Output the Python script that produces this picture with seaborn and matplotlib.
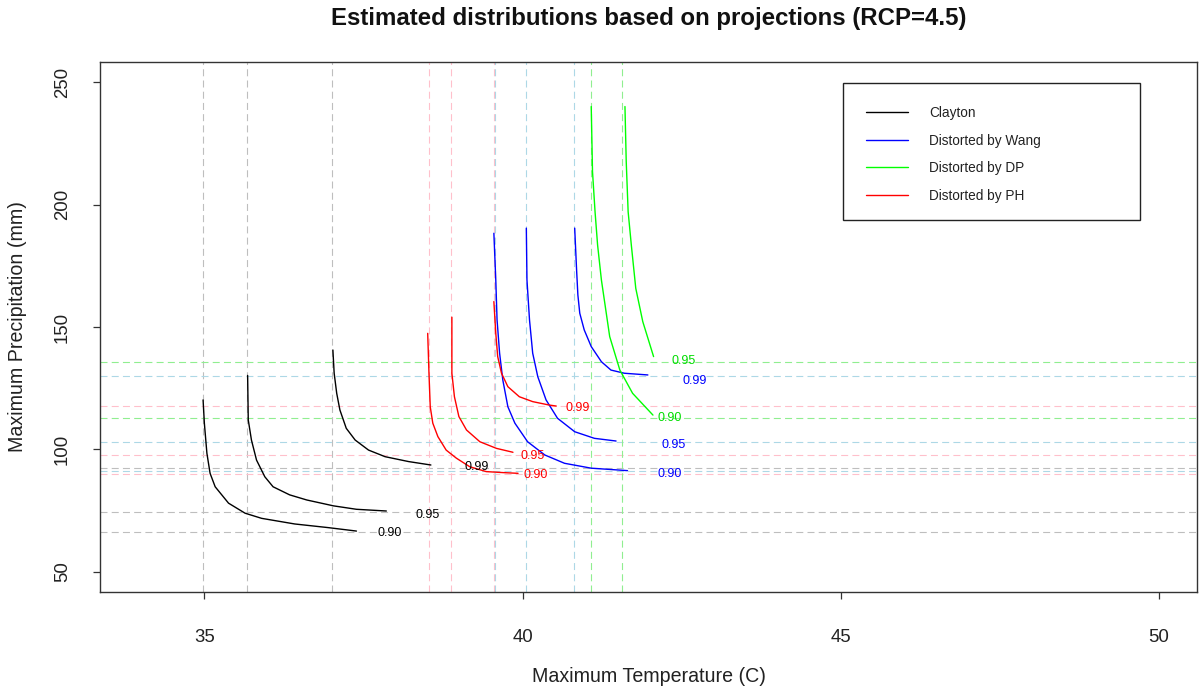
import numpy as np
import pandas as pd
import matplotlib
matplotlib.use("Agg")
import matplotlib.pyplot as plt
import seaborn as sns
from matplotlib.lines import Line2D
from matplotlib.patches import Rectangle

# ---------------- data ----------------
models = ["Clayton", "Distorted by Wang", "Distorted by DP", "Distorted by PH"]

# Clayton copula contours
clayton_090_x = [34.98, 35.00, 35.04, 35.09, 35.17, 35.38, 35.64, 35.90, 36.42, 36.95, 37.39]
clayton_090_y = [120.2, 110.7, 98.4, 90.2, 84.7, 78.0, 73.9, 71.8, 69.5, 68.0, 66.6]
clayton_095_x = [35.68, 35.69, 35.74, 35.82, 35.95, 36.08, 36.34, 36.61, 37.03, 37.39, 37.86]
clayton_095_y = [130.2, 112.0, 103.8, 95.6, 88.8, 84.7, 81.4, 79.3, 76.9, 75.5, 74.8]
clayton_099_x = [37.02, 37.04, 37.08, 37.13, 37.23, 37.37, 37.58, 37.84, 38.21, 38.56]
clayton_099_y = [140.6, 131.1, 122.9, 116.1, 108.6, 103.8, 99.7, 97.0, 95.0, 93.6]

# Distorted by PH
ph_090_x = [38.51, 38.53, 38.55, 38.59, 38.67, 38.80, 38.96, 39.17, 39.43, 39.69, 39.93]
ph_090_y = [147.4, 131.1, 117.4, 110.7, 105.2, 99.7, 96.4, 92.9, 90.9, 90.5, 90.2]
ph_095_x = [38.89, 38.89, 38.93, 39.00, 39.12, 39.33, 39.59, 39.85]
ph_095_y = [154.0, 131.1, 121.5, 113.4, 107.9, 103.1, 100.4, 98.8]
ph_099_x = [39.55, 39.58, 39.61, 39.67, 39.77, 39.95, 40.16, 40.42, 40.53]
ph_099_y = [160.4, 147.4, 137.9, 131.1, 125.6, 121.5, 119.5, 118.1, 117.7]

# Distorted by Wang
wang_090_x = [39.55, 39.58, 39.60, 39.64, 39.69, 39.77, 39.88, 40.08, 40.35, 40.66, 41.08, 41.65]
wang_090_y = [188.3, 169.2, 152.9, 139.3, 128.4, 117.4, 110.7, 103.1, 97.7, 94.3, 92.3, 91.3]
wang_095_x = [40.06, 40.07, 40.11, 40.16, 40.24, 40.37, 40.55, 40.82, 41.13, 41.47]
wang_095_y = [190.4, 169.2, 152.9, 139.3, 129.7, 120.2, 112.7, 107.2, 104.5, 103.4]
wang_099_x = [40.82, 40.85, 40.87, 40.90, 40.97, 41.08, 41.24, 41.39, 41.60, 41.97]
wang_099_y = [190.4, 173.3, 163.1, 155.6, 148.8, 142.0, 135.8, 132.4, 131.1, 130.4]

# Distorted by DP
dp_090_x = [41.08, 41.10, 41.14, 41.18, 41.24, 41.37, 41.53, 41.73, 42.05]
dp_090_y = [240.1, 213.5, 197.1, 183.5, 169.2, 146.1, 132.4, 122.9, 114.0]
dp_095_x = [41.61, 41.63, 41.66, 41.71, 41.78, 41.89, 42.06]
dp_095_y = [240.1, 217.6, 197.1, 183.5, 165.8, 152.2, 137.9]

# marginal quantiles (dashed reference lines)
clayton_xq = [34.98, 35.67, 37.01]
clayton_yq = [66.2, 74.4, 92.5]
ph_xq = [38.53, 38.88, 39.55]
ph_yq = [89.8, 97.8, 117.7]
wang_xq = [39.57, 40.05, 40.81]
wang_yq = [91.2, 102.8, 130.0]
dp_xq = [41.07, 41.57]
dp_yq = [112.8, 135.7]

# contour labels
clayton_labels = ["0.90", "0.95", "0.99"]
clayton_label_x = [37.91, 38.51, 39.28]
clayton_label_y = [65.8, 73.3, 92.9]
ph_labels = ["0.90", "0.95", "0.99"]
ph_label_x = [40.21, 40.16, 40.87]
ph_label_y = [89.5, 97.4, 117.0]
wang_labels = ["0.90", "0.95", "0.99"]
wang_label_x = [42.31, 42.38, 42.70]
wang_label_y = [90.0, 101.7, 127.8]
dp_labels = ["0.90", "0.95"]
dp_label_x = [42.32, 42.53]
dp_label_y = [112.9, 136.1]

x_ticks = [35, 40, 45, 50]
y_ticks = [50, 100, 150, 200, 250]

# ---------------- assemble ----------------
curves = [
    ("Clayton", "0.90", clayton_090_x, clayton_090_y),
    ("Clayton", "0.95", clayton_095_x, clayton_095_y),
    ("Clayton", "0.99", clayton_099_x, clayton_099_y),
    ("Distorted by PH", "0.90", ph_090_x, ph_090_y),
    ("Distorted by PH", "0.95", ph_095_x, ph_095_y),
    ("Distorted by PH", "0.99", ph_099_x, ph_099_y),
    ("Distorted by Wang", "0.90", wang_090_x, wang_090_y),
    ("Distorted by Wang", "0.95", wang_095_x, wang_095_y),
    ("Distorted by Wang", "0.99", wang_099_x, wang_099_y),
    ("Distorted by DP", "0.90", dp_090_x, dp_090_y),
    ("Distorted by DP", "0.95", dp_095_x, dp_095_y),
]
rows = []
for m, lev, xs, ys in curves:
    for i, (xv, yv) in enumerate(zip(xs, ys)):
        rows.append({"model": m, "curve": m + lev, "x": xv, "y": yv, "order": i})
df = pd.DataFrame(rows)

curve_colors = {"Clayton": "#000000", "Distorted by Wang": "#0000FF",
                "Distorted by DP": "#00FF00", "Distorted by PH": "#FF0000"}
ref_colors = {"Clayton": "#BEBEBE", "Distorted by Wang": "#ADD8E6",
              "Distorted by DP": "#90EE90", "Distorted by PH": "#FFC0CB"}
label_colors = {"Clayton": "#000000", "Distorted by Wang": "#0000FF",
                "Distorted by DP": "#00DD00", "Distorted by PH": "#FF0000"}

sns.set_theme(style="white")
plt.rcParams["font.family"] = ["Liberation Sans", "DejaVu Sans"]

W, H = 1200, 694
fig = plt.figure(figsize=(W / 100, H / 100), dpi=100)
L, R, T, B = 100, 1197, 62, 591.7
ax = fig.add_axes([L / W, 1 - B / H, (R - L) / W, (B - T) / H])
ax.set_facecolor("white")

# dashed reference lines
dash = (6.3, 3.8)
for m, xq, yq in [("Clayton", clayton_xq, clayton_yq),
                  ("Distorted by PH", ph_xq, ph_yq),
                  ("Distorted by Wang", wang_xq, wang_yq),
                  ("Distorted by DP", dp_xq, dp_yq)]:
    for v in xq:
        ax.axvline(v, color=ref_colors[m], lw=0.8, dashes=dash, zorder=1)
    for v in yq:
        ax.axhline(v, color=ref_colors[m], lw=0.8, dashes=dash, zorder=1)

sns.lineplot(data=df, x="x", y="y", hue="model", units="curve", estimator=None,
             sort=False, palette=curve_colors, hue_order=models, legend=False,
             linewidth=1.0, ax=ax, zorder=3)

for m, labs, lx, ly in [("Clayton", clayton_labels, clayton_label_x, clayton_label_y),
                        ("Distorted by PH", ph_labels, ph_label_x, ph_label_y),
                        ("Distorted by Wang", wang_labels, wang_label_x, wang_label_y),
                        ("Distorted by DP", dp_labels, dp_label_x, dp_label_y)]:
    for t, xv, yv in zip(labs, lx, ly):
        ax.text(xv, yv, t, color=label_colors[m], fontsize=9.0,
                ha="center", va="center", zorder=4)

ax.set_xlim(33.36, 50.6)
ax.set_ylim(41.82, 258.3)
ax.set_xticks(x_ticks)
ax.set_yticks(y_ticks)
ax.set_xticklabels([str(v) for v in x_ticks])
ax.set_yticklabels([str(v) for v in y_ticks], rotation=90, va="center")
ax.tick_params(axis="both", direction="out", length=5, width=0.9, color="#333333",
               labelsize=13.4, labelcolor="#222222", bottom=True, left=True)
ax.tick_params(axis="x", pad=22)
ax.tick_params(axis="y", pad=16)
for s in ax.spines.values():
    s.set_color("#333333")
    s.set_linewidth(1.0)

ax.set_xlabel("Maximum Temperature (C)", fontsize=14.1, color="#222222", va="center")
ax.xaxis.set_label_coords(0.5, (B - 677) / (B - T))
ax.set_ylabel("Maximum Precipitation (mm)", fontsize=14.1, color="#222222", va="center")
ax.yaxis.set_label_coords((18 - L) / (R - L), 0.5)

fig.text((L + R) / 2 / W, 1 - 18 / H,
         "Estimated distributions based on projections (RCP=4.5)",
         fontsize=17.3, fontweight="bold", color="#111111", ha="center", va="center")

# legend: frame drawn as a box, entries placed inside
lx0, ly0, lx1, ly1 = 843, 83, 1140, 220
ax.add_patch(Rectangle(((lx0 - L) / (R - L), (B - ly1) / (B - T)),
                       (lx1 - lx0) / (R - L), (ly1 - ly0) / (B - T),
                       transform=ax.transAxes, facecolor="white",
                       edgecolor="#222222", lw=1.0, zorder=5))
handles = [Line2D([0], [0], color=curve_colors[m], lw=1.0) for m in models]
leg = ax.legend(handles, models, loc="upper left",
                bbox_to_anchor=((866 - L) / (R - L), (B - 106) / (B - T)),
                borderaxespad=0, fontsize=9.8, frameon=False,
                handlelength=3.1, handletextpad=1.55, labelspacing=1.0, borderpad=0)
leg.set_zorder(6)
for t in leg.get_texts():
    t.set_color("#222222")

fig.savefig("out.png", dpi=100)
